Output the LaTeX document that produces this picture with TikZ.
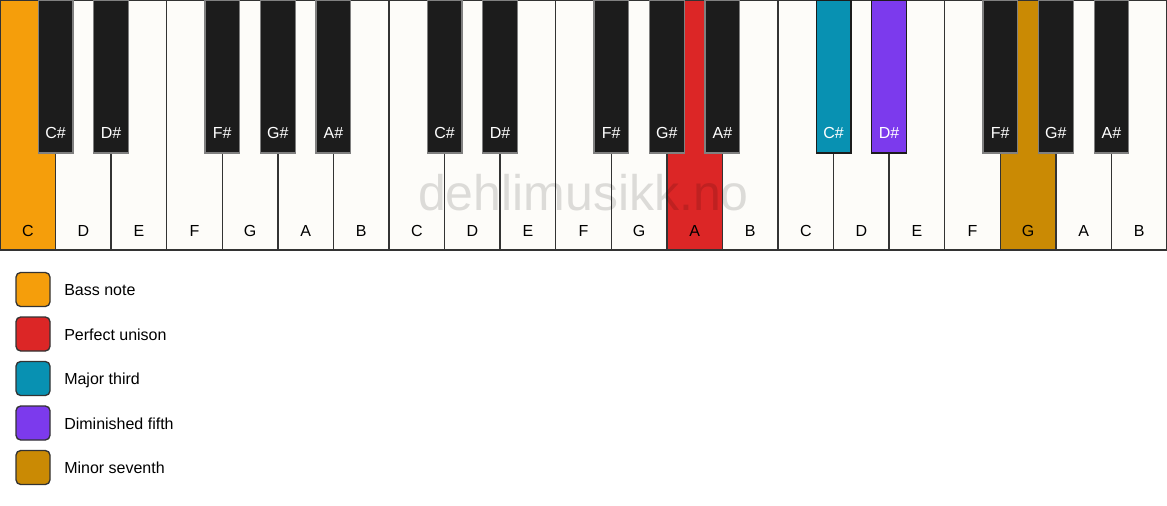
\documentclass[tikz,border=0pt]{standalone}
\usepackage{fontspec}
\setmainfont{Liberation Sans}
\usepackage{xcolor}
\usetikzlibrary{positioning}

\definecolor{bassnote}{HTML}{F59E0B}
\definecolor{unison}{HTML}{DC2626}
\definecolor{majthird}{HTML}{0891B2}
\definecolor{dimfifth}{HTML}{7C3AED}
\definecolor{minseventh}{HTML}{CA8A04}
\definecolor{ivory}{HTML}{FDFCF9}
\definecolor{ebony}{HTML}{1C1C1C}
\definecolor{keyline}{HTML}{333333}

\begin{document}
\begin{tikzpicture}[x={(0.75pt,0)},y={(0,-0.75pt)}]
    \tikzset{whitekey/.style = {shape=rectangle,draw=keyline,line width=1.1pt,inner sep=0pt,minimum width=41.68pt,minimum height=187.5pt}}
    \tikzset{blackkey/.style = {shape=rectangle,draw=#1,line width=0.9pt,inner sep=0pt,minimum width=26pt,minimum height=114.75pt}}
    \tikzset{keyname/.style = {font=\fontsize{12}{14}\selectfont,inner sep=0pt}}
    \tikzset{swatch/.style = {shape=rectangle,draw=keyline,line width=1pt,rounded corners=3.5pt,inner sep=0pt,minimum size=25.5pt}}
    \tikzset{legendtext/.style = {keyname,text height=8.6pt,text depth=2.6pt}}
    \def\kw{55.571}

    \useasboundingbox (0,0) rectangle (1167,506);
    \fill[white] (0,0) rectangle (1167,506);

    % white keys
    \foreach \n/\c [count=\i] in {C/bassnote,D/ivory,E/ivory,F/ivory,G/ivory,A/ivory,B/ivory,
                                  C/ivory,D/ivory,E/ivory,F/ivory,G/ivory,A/unison,B/ivory,
                                  C/ivory,D/ivory,E/ivory,F/ivory,G/minseventh,A/ivory,B/ivory}
    {
      \node[whitekey,fill=\c] (w\i) at ({(\i-0.5)*\kw},125) {};
      \node[keyname,anchor=base] (wl\i) at ({(\i-0.5)*\kw},236) {\n};
    }

    % watermark
    \node[font=\fontsize{37.5}{40}\selectfont,text=black,text opacity=0.13] (mark) at (583.5,193) {dehlimusikk.no};

    % black keys
    \foreach \b/\n/\c/\t in {1/C\#/ebony/gray,2/D\#/ebony/gray,4/F\#/ebony/gray,5/G\#/ebony/gray,6/A\#/ebony/gray,
                             8/C\#/ebony/gray,9/D\#/ebony/gray,11/F\#/ebony/gray,12/G\#/ebony/gray,13/A\#/ebony/gray,
                             15/C\#/majthird/ebony,16/D\#/dimfifth/ebony,18/F\#/ebony/gray,19/G\#/ebony/gray,20/A\#/ebony/gray}
    {
      \node[blackkey=\t,fill=\c] (b\b) at ({\b*\kw},76.5) {};
      \node[keyname,anchor=base,text=white] (bl\b) at ({\b*\kw},138.5) {\n};
    }

    % legend
    \foreach \c/\t [count=\j] in {bassnote/Bass note,unison/Perfect unison,majthird/Major third,
                                  dimfifth/Diminished fifth,minseventh/Minor seventh}
    {
      \node[swatch,fill=\c] (s\j) at (33,{289.5+44.5*(\j-1)}) {};
      \node[legendtext,anchor=west,right=10pt of s\j,yshift=-1.5pt] (t\j) {\t};
    }
\end{tikzpicture}
\end{document}
